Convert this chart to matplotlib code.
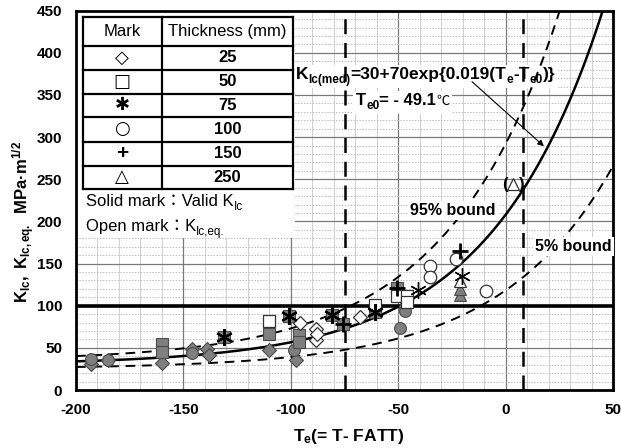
import numpy as np
import matplotlib
matplotlib.use('Agg')
import matplotlib.pyplot as plt
from matplotlib.patches import Rectangle
from matplotlib.transforms import IdentityTransform, Bbox

plt.rcParams['font.family'] = ['Liberation Sans', 'Noto Sans CJK JP', 'DejaVu Sans']
plt.rcParams['mathtext.fontset'] = 'custom'
plt.rcParams['mathtext.rm'] = 'Liberation Sans'
plt.rcParams['mathtext.it'] = 'Liberation Sans'
plt.rcParams['mathtext.bf'] = 'Liberation Sans:bold'
plt.rcParams['axes.unicode_minus'] = False

# master curve (from the formula in the chart)
T_e0 = -49.1
slope = 0.019
med_a, med_b = 30.0, 70.0
b95_a, b95_b = 34.5, 101.3
b05_a, b05_b = 25.2, 36.6
limit_T = [-75, 8]

# legend table
marks = ['\u25c7', '\u25a1', '\u2731', '\u25cb', '+', '\u25b3']
thickness = ['25', '50', '75', '100', '150', '250']

# solid marks: valid K_Ic
sd_T = [-193, -185, -160, -146, -139, -138, -110, -97.5]
sd_K = [31, 35, 32, 49, 49, 42, 47, 35]
ss_T = [-160, -160, -110, -96, -96]
ss_K = [55, 45, 67, 65, 57]
sa_T = [-131, -101, -81, -61]
sa_K = [63, 88, 89, 92]
sc_T = [-193, -185, -146, -98.5, -49, -47, -47]
sc_K = [37, 36, 44, 48, 74, 99, 94]
sp_T = [-75.5, -50.5]
sp_K = [78, 121]
st_T = [-21, -21]
st_K = [113, 120]

# open marks: K_Ic,eq.
od_T = [-95.5, -88.5, -88.5, -88, -68]
od_K = [79, 72, 59, 66, 87]
os_T = [-110, -61, -50.5, -46, -46]
os_K = [82, 101, 112, 111, 104]
oa_T = [-41, -20.5]
oa_K = [119, 135]
oc_T = [-35, -35, -23, -9]
oc_K = [147, 134, 155, 118]
op_T = [-21]
op_K = [165]
ot_T = [-21, 3.5]
ot_K = [129, 244]

fig = plt.figure(figsize=(6.21, 4.48), dpi=100)
ax = fig.add_axes([76/621, 58/448, 537/621, 379.3/448])
ax.set_axisbelow(True)

T = np.linspace(-200, 50, 400)
x = np.exp(slope * (T - T_e0))
ax.plot(T, med_a + med_b * x, color='black', lw=1.8, zorder=2)
ax.plot(T, b95_a + b95_b * x, color='black', lw=1.4, ls=(0, (5, 3.5)), zorder=2)
ax.plot(T, b05_a + b05_b * x, color='black', lw=1.4, ls=(0, (5, 3.5)), zorder=2)
for t in limit_T:
    ax.axvline(t, color='black', lw=1.8, ls=(0, (6, 3.5)), zorder=2)
ax.axhline(100, color='black', lw=2.6, zorder=2)

gray = '#7f7f7f'
edge = '#4a4a4a'
solid = dict(ls='none', mfc=gray, mec=edge, mew=0.8, zorder=4)
openm = dict(ls='none', mfc='white', mec='#333333', mew=0.9, zorder=4)
ast = (6, 2, 0)

ax.plot(sd_T, sd_K, 'D', ms=7, **solid)
ax.plot(sc_T, sc_K, 'o', ms=8.5, **solid)
ax.plot(ss_T, ss_K, 's', ms=8.5, **solid)
ax.plot(sa_T, sa_K, 's', ms=9, **solid)
ax.plot(sa_T, sa_K, marker=ast, ms=12, ls='none', color='black', mew=1.6, zorder=5)
ax.plot(sp_T, sp_K, 's', ms=9, **solid)
ax.plot(sp_T, sp_K, '+', ms=11, color='black', mew=2.0, zorder=5)
ax.plot(st_T, st_K, '^', ms=8.5, **solid)

ax.plot(od_T, od_K, 'D', ms=7, **openm)
ax.plot(os_T, os_K, 's', ms=8.5, **openm)
ax.plot(oc_T, oc_K, 'o', ms=9, **openm)
ax.plot(ot_T, ot_K, '^', ms=9, **openm)
ax.plot(oa_T, oa_K, marker=ast, ms=12, ls='none', color='black', mew=1.0, zorder=5)
ax.plot(op_T, op_K, '+', ms=11, color='black', mew=2.0, zorder=5)

ax.set_xlim(-200, 50)
ax.set_ylim(0, 450)
ax.set_xticks(np.arange(-200, 51, 50))
ax.set_xticks(np.arange(-200, 51, 10), minor=True)
ax.set_yticks(np.arange(0, 451, 50))
ax.set_yticks(np.arange(0, 451, 10), minor=True)
ax.xaxis.grid(True, which='major', color='#7a7a7a', lw=0.9)
ax.yaxis.grid(True, which='major', color='#7a7a7a', lw=0.9)
ax.xaxis.grid(True, which='minor', color='#cfcfcf', lw=0.7)
ax.yaxis.grid(True, which='minor', color='#bdbdbd', lw=0.7, ls=(0, (1.5, 1.5)))
ax.tick_params(which='both', length=0)
ax.tick_params(axis='y', pad=10, labelsize=11)
ax.tick_params(axis='x', pad=9, labelsize=11)
for lab in ax.get_xticklabels() + ax.get_yticklabels():
    lab.set_fontweight('bold')
for s in ax.spines.values():
    s.set_linewidth(2)
    s.set_color('black')

fig.text(349/621, 1 - 436/448, r'$\mathbf{T_e}$(= T- FATT)', ha='center', va='center',
         fontsize=12.5, fontweight='bold')
fig.text(24/621, 1 - 222/448, r'$\mathbf{K_{Ic},\ K_{Ic,eq.}\ \ MPa·m^{1/2}}$',
         rotation=90, ha='center', va='center', fontsize=12)

# legend table
ax.add_patch(Rectangle((0, 0.40), 0.408, 0.60, transform=ax.transAxes,
                       facecolor='white', edgecolor='none', zorder=1))
tx0, tx1, tdiv = 0.0125, 0.405, 0.1596
rows = [0.984, 0.908, 0.8438, 0.7805, 0.7205, 0.6546, 0.5914, 0.5291]
for yy in rows:
    ax.plot([tx0, tx1], [yy, yy], transform=ax.transAxes, color='black', lw=1.6, zorder=6)
for xx in [tx0, tdiv, tx1]:
    ax.plot([xx, xx], [rows[-1], rows[0]], transform=ax.transAxes, color='black', lw=1.6, zorder=6)
ax.text((tx0 + tdiv) / 2, (rows[0] + rows[1]) / 2, 'Mark', transform=ax.transAxes,
        ha='center', va='center', fontsize=12, zorder=6)
ax.text((tdiv + tx1) / 2, (rows[0] + rows[1]) / 2, 'Thickness (mm)', transform=ax.transAxes,
        ha='center', va='center', fontsize=12, zorder=6)
for i in range(len(marks)):
    yc = (rows[i + 1] + rows[i + 2]) / 2
    if marks[i] == '+':
        ax.text((tx0 + tdiv) / 2, yc, marks[i], transform=ax.transAxes, ha='center',
                va='center', fontsize=15, fontweight='bold', zorder=6)
    else:
        ax.text((tx0 + tdiv) / 2, yc, marks[i], transform=ax.transAxes, ha='center',
                va='center', fontsize=13, family=['DejaVu Sans'], zorder=6)
    ax.text((tdiv + tx1) / 2, yc, thickness[i], transform=ax.transAxes, ha='center',
            va='center', fontsize=12, fontweight='bold', zorder=6)

fig.canvas.draw()
renderer = fig.canvas.get_renderer()


def rich(x, y, pieces, trans, box=False, z=6):
    px, py = trans.transform((x, y))
    texts = []
    for s, size, weight, dy in pieces:
        t = ax.text(px, py + dy, s, transform=IdentityTransform(), fontsize=size,
                    fontweight=weight, ha='left', va='baseline', zorder=z)
        bb = t.get_window_extent(renderer)
        px = bb.x1
        texts.append(bb)
    if box:
        u = Bbox.union(texts)
        ax.add_patch(Rectangle((u.x0 - 3, u.y0 - 2), u.width + 6, u.height + 4,
                               transform=IdentityTransform(), facecolor='white',
                               edgecolor='none', zorder=1))


rich(0.0186, 0.485, [('Solid mark\uff1aValid K', 12, 'normal', 0), ('Ic', 8.5, 'normal', -4)],
     ax.transAxes)
rich(0.0186, 0.419, [('Open mark\uff1aK', 12, 'normal', 0), ('Ic,eq.', 8.5, 'normal', -4)],
     ax.transAxes)

rich(-97.6, 369, [('K', 12.5, 'bold', 0), ('Ic(med)', 8.5, 'bold', -4),
                  ('=30+70exp{0.019(T', 12.5, 'bold', 0), ('e', 8.5, 'bold', -4),
                  ('-T', 12.5, 'bold', 0), ('e0', 8.5, 'bold', -4), (')}', 12.5, 'bold', 0)],
     ax.transData, box=True, z=1.5)
rich(-69.6, 338, [('T', 12, 'bold', 0), ('e0', 8.5, 'bold', -4),
                  ('= - 49.1', 12, 'bold', 0), ('\u2103', 9.5, 'normal', 0)],
     ax.transData, box=True, z=1.5)

ax.annotate('', xy=(18.8, 287), xytext=(-16.6, 368),
            arrowprops=dict(arrowstyle='-|>', color='black', lw=0.8, mutation_scale=9),
            zorder=3)

ax.text(-44.5, 213, '95% bound', fontsize=11.5, fontweight='bold', va='center', ha='left',
        zorder=5, bbox=dict(facecolor='white', edgecolor='none', pad=1.5))
ax.text(13.7, 170, '5% bound', fontsize=11.5, fontweight='bold', va='center', ha='left',
        zorder=5, bbox=dict(facecolor='white', edgecolor='none', pad=1.5))
ax.text(ot_T[-1] - 4.0, ot_K[-1], '(', fontsize=12, fontweight='bold', va='center',
        ha='center', zorder=5)
ax.text(ot_T[-1] + 4.0, ot_K[-1], ')', fontsize=12, fontweight='bold', va='center',
        ha='center', zorder=5)

fig.savefig('out.png', dpi=100)
